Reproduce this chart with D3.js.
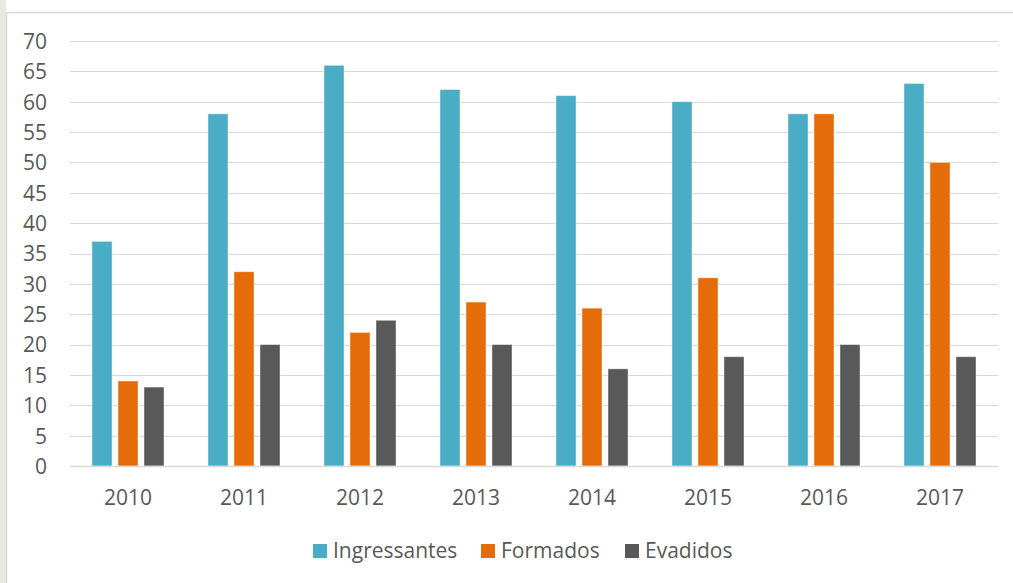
<!DOCTYPE html>
<html><head><meta charset="utf-8">
<script src="https://cdn.jsdelivr.net/npm/d3@7"></script>
<style>body{margin:0;background:#fff;} svg{display:block;} text{font-family:"Open Sans",sans-serif;fill:#595959;}</style>
</head><body>
<svg id="c" width="1013" height="583"></svg>
<script>
const years = ["2010","2011","2012","2013","2014","2015","2016","2017"];
const ingressantes = [37,58,66,62,61,60,58,63];
const formados = [14,32,22,27,26,31,58,50];
const evadidos = [13,20,24,20,16,18,20,18];
const seriesNames = ["Ingressantes","Formados","Evadidos"];
const seriesColors = ["#4BACC6","#E46C0A","#595959"];
const yTicks = [0,5,10,15,20,25,30,35,40,45,50,55,60,65,70];

const svg = d3.select("#c");
// faint background strip at the left edge
svg.append("rect").attr("x",0).attr("y",0).attr("width",6).attr("height",583).attr("fill","#ece8df");
svg.append("rect").attr("x",6.5).attr("y",12.5).attr("width",1010).attr("height",580)
  .attr("fill","#fff").attr("stroke","#d9d9d9").attr("stroke-width",1.5);

const pLeft=70,pRight=998,pTop=41,pBottom=466;
const groupW = 72;
const x = d3.scaleBand().domain(years).range([pLeft,pRight]);
const y = d3.scaleLinear().domain([0,70]).range([pBottom,pTop]);
const x1 = d3.scaleBand().domain(seriesNames).range([0,groupW]).paddingInner(0.231).paddingOuter(0);

// gridlines
svg.append("g").selectAll("line").data(yTicks.filter(d=>d>0)).join("line")
  .attr("x1",pLeft).attr("x2",pRight).attr("y1",d=>Math.round(y(d))+0.5).attr("y2",d=>Math.round(y(d))+0.5)
  .attr("stroke","#d9d9d9").attr("stroke-width",1.2);

// y axis labels
const yAxis = d3.axisLeft(y).tickValues(yTicks).tickSize(0).tickPadding(0);
const ga = svg.append("g").attr("transform","translate(47,0)").call(yAxis);
ga.select(".domain").remove();
ga.selectAll("text").style("font-size","21px").attr("fill","#595959").attr("dy","0.35em");

const data = years.map((yr,i)=>({year:yr, vals:[ingressantes[i],formados[i],evadidos[i]]}));
const groupOffset = (x.bandwidth()-groupW)/2;
const g = svg.append("g");
data.forEach(d=>{
  d.vals.forEach((v,j)=>{
    g.append("rect")
      .attr("x", x(d.year)+groupOffset+x1(seriesNames[j]))
      .attr("y", y(v))
      .attr("width", x1.bandwidth())
      .attr("height", y(0)-y(v))
      .attr("fill", seriesColors[j])
      .attr("stroke","#fff").attr("stroke-opacity",0.5).attr("stroke-width",0.8);
  });
});

// baseline
svg.append("line").attr("x1",pLeft).attr("x2",pRight).attr("y1",pBottom+0.5).attr("y2",pBottom+0.5)
  .attr("stroke","#d9d9d9").attr("stroke-width",1.5);

// x axis labels
const xAxis = d3.axisBottom(x).tickSize(0).tickPadding(0);
const gx = svg.append("g").attr("transform",`translate(0,${pBottom})`).call(xAxis);
gx.select(".domain").remove();
gx.selectAll("text").style("font-size","21px").attr("fill","#595959").attr("y",39).attr("dy","0");

// legend
const legendX = [313,481,625];
const lg = svg.append("g");
seriesNames.forEach((n,i)=>{
  lg.append("rect").attr("x",legendX[i]).attr("y",544).attr("width",14).attr("height",14).attr("fill",seriesColors[i]);
  lg.append("text").attr("x",legendX[i]+20).attr("y",558).style("font-size","21px").text(n);
});
</script>
</body></html>
